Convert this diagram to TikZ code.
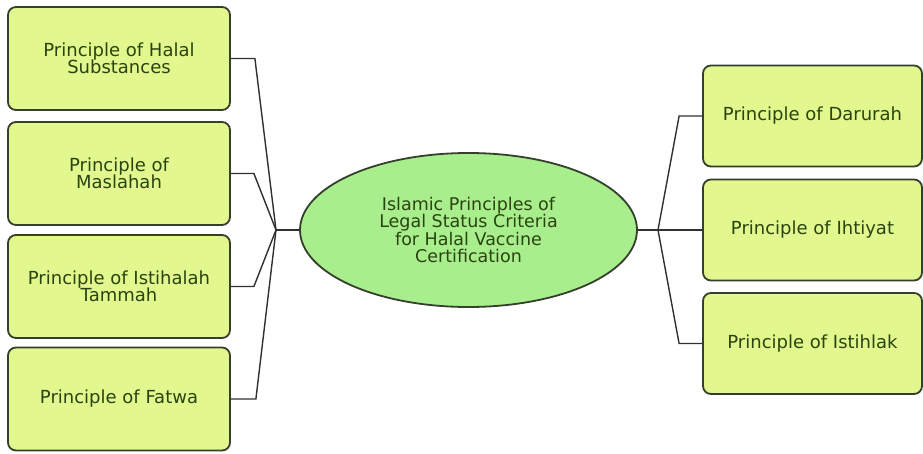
\documentclass[tikz,border=0pt]{standalone}
\usepackage{fontspec}
\setmainfont{DejaVu Sans}
\usetikzlibrary{shapes.geometric}
\definecolor{boxfill}{HTML}{E2F78E}
\definecolor{ellfill}{HTML}{A8EE8C}
\definecolor{edge}{HTML}{34402C}
\definecolor{txt}{HTML}{2A4410}
\definecolor{wire}{HTML}{303030}
\begin{document}
\begin{tikzpicture}[x=1pt,y=-1pt,
  pbox/.style={draw=edge, line width=1.8pt, fill=boxfill, rounded corners=8pt,
    inner sep=0pt, align=center, text=txt,
    font=\fontsize{18}{17.5}\selectfont},
  lbox/.style={pbox, minimum width=222pt, minimum height=103pt},
  rbox/.style={pbox, minimum width=219pt, minimum height=101pt},
  hub/.style={ellipse, draw=edge, line width=1.8pt, fill=ellfill, inner sep=0pt,
    minimum width=337pt, minimum height=154pt, align=center, text=txt,
    font=\fontsize{17.5}{17.5}\selectfont},
  wirel/.style={draw=wire, line width=1.4pt}]
\useasboundingbox (0,0) rectangle (923,453);
\fill[white] (0,0) rectangle (923,453);
\node[lbox] (b1) at (119,58.5) {Principle of Halal\\Substances};
\node[lbox] (b2) at (119,173.5) {Principle of\\Maslahah};
\node[lbox] (b3) at (119,286.5) {Principle of Istihalah\\Tammah};
\node[lbox] (b4) at (119,399) {Principle of Fatwa};
\node[rbox] (b5) at (812.5,116) {Principle of Darurah};
\node[rbox] (b6) at (812.5,230) {Principle of Ihtiyat};
\node[rbox] (b7) at (812.5,343.5) {Principle of Istihlak};
\node[hub] (c) at (468.5,230) {Islamic Principles of\\Legal Status Criteria\\for Halal Vaccine\\Certification};
\coordinate (jl) at (276,230);
\coordinate (jr) at (658,230);
\draw[wirel] (b1.east) -- ++(24,0) -- (jl);
\draw[wirel] (b2.east) -- ++(23,0) -- (jl);
\draw[wirel] (b3.east) -- ++(23,0) -- (jl);
\draw[wirel] (b4.east) -- ++(25,0) -- (jl);
\draw[wirel] (jl) -- (c.west);
\draw[wirel] (c.east) -- (b6.west);
\draw[wirel] (b5.west) -- ++(-23,0) -- (jr);
\draw[wirel] (b7.west) -- ++(-23,0) -- (jr);
\end{tikzpicture}
\end{document}
